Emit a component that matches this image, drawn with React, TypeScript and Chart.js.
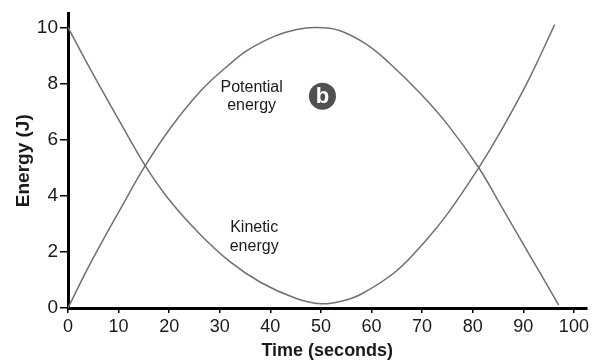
import React, { useEffect, useRef } from "react";
import { Chart, registerables } from "chart.js";

Chart.register(...registerables);

const kineticTime = [0, 4.6, 9.9, 15.2, 19.8, 25.7, 32, 38.2, 45, 50, 54, 58, 64.8, 70.7, 75.2, 81.2, 85.7, 91.1, 96.2];
const kineticEnergy = [10, 8.45, 6.75, 5.09, 3.9, 2.7, 1.65, 0.9, 0.35, 0.15, 0.24, 0.5, 1.3, 2.4, 3.4, 5.0, 6.35, 8.15, 10.1];

const potentialTime = [0, 4.6, 11.2, 15.3, 20.4, 26.3, 31.7, 35.6, 41, 45, 48.9, 53.5, 58.8, 63.4, 69.9, 75.2, 81.2, 85.1, 89.1, 93, 97];
const potentialEnergy = [0, 1.65, 3.8, 5.08, 6.45, 7.75, 8.65, 9.2, 9.7, 9.92, 10.0, 9.9, 9.42, 8.75, 7.6, 6.5, 5.0, 3.8, 2.55, 1.35, 0.1];

const xTicks = [0, 10, 20, 30, 40, 50, 60, 70, 80, 90, 100];
const yTicks = [0, 2, 4, 6, 8, 10];

const xTitle = "Time (seconds)";
const yTitle = "Energy (J)";
const potentialLabel = ["Potential", "energy"];
const kineticLabel = ["Kinetic", "energy"];
const badgeText = "b";

const FONT = "'Liberation Sans', Arial, sans-serif";
const CURVE = "#707070";

const annotationPlugin = {
  id: "annotations",
  afterDatasetsDraw(chart: any) {
    const ctx = chart.ctx;
    const xs = chart.scales.x;
    const ys = chart.scales.y;
    ctx.save();
    ctx.fillStyle = "#1a1a1a";
    ctx.font = `16px ${FONT}`;
    ctx.textAlign = "center";
    ctx.textBaseline = "middle";
    const px = xs.getPixelForValue(36.3);
    const py = ys.getPixelForValue(7.85);
    ctx.fillText(potentialLabel[0], px, py);
    ctx.fillText(potentialLabel[1], px, py + 18);
    const kx = xs.getPixelForValue(36.8);
    const ky = ys.getPixelForValue(2.85);
    ctx.fillText(kineticLabel[0], kx, ky);
    ctx.fillText(kineticLabel[1], kx, ky + 19);
    const bx = xs.getPixelForValue(50.3);
    const by = ys.getPixelForValue(7.55);
    ctx.beginPath();
    ctx.arc(bx, by, 13.5, 0, Math.PI * 2);
    ctx.fillStyle = "#505050";
    ctx.fill();
    ctx.fillStyle = "#ffffff";
    ctx.font = `bold 22px ${FONT}`;
    ctx.fillText(badgeText, bx, by + 1);
    ctx.restore();
  },
};

export default function App() {
  const ref = useRef<HTMLCanvasElement | null>(null);

  useEffect(() => {
    if (!ref.current) return;
    const chart = new Chart(ref.current, {
      type: "line",
      data: {
        datasets: [
          {
            label: "Kinetic energy",
            data: kineticTime.map((t, i) => ({ x: t, y: kineticEnergy[i] })),
            borderColor: CURVE,
            borderWidth: 1.5,
            pointRadius: 0,
            tension: 0.4,
            fill: false,
          },
          {
            label: "Potential energy",
            data: potentialTime.map((t, i) => ({ x: t, y: potentialEnergy[i] })),
            borderColor: CURVE,
            borderWidth: 1.5,
            pointRadius: 0,
            tension: 0.4,
            fill: false,
          },
        ],
      },
      options: {
        animation: false,
        responsive: false,
        maintainAspectRatio: false,
        layout: { padding: { top: 9, right: 4, left: 0, bottom: 0 } },
        plugins: {
          legend: { display: false },
          tooltip: { enabled: false },
        },
        scales: {
          x: {
            type: "linear",
            min: 0,
            max: 102.5,
            afterBuildTicks: (s: any) => {
              s.ticks = xTicks.map((v) => ({ value: v }));
            },
            afterFit: (s: any) => {
              s.height = 56;
            },
            grid: {
              drawOnChartArea: false,
              drawTicks: true,
              tickLength: 5,
              color: "#000",
              lineWidth: 1.5,
            },
            border: { display: true, color: "#000", width: 3 },
            ticks: {
              color: "#1a1a1a",
              padding: 3,
              maxRotation: 0,
              autoSkip: false,
              font: { family: FONT, size: 18 },
            },
            title: {
              display: true,
              text: xTitle,
              color: "#1a1a1a",
              padding: { top: 0, bottom: 2 },
              font: { family: FONT, size: 18, weight: "bold" },
            },
          },
          y: {
            type: "linear",
            min: 0,
            max: 10.5,
            afterBuildTicks: (s: any) => {
              s.ticks = yTicks.map((v) => ({ value: v }));
            },
            afterFit: (s: any) => {
              s.width = 68;
            },
            grid: {
              drawOnChartArea: false,
              drawTicks: true,
              tickLength: 8,
              color: "#000",
              lineWidth: 1.5,
            },
            border: { display: true, color: "#000", width: 3 },
            ticks: {
              color: "#1a1a1a",
              padding: 2,
              autoSkip: false,
              font: { family: FONT, size: 19 },
            },
            title: {
              display: true,
              text: yTitle,
              color: "#1a1a1a",
              padding: { top: 12, bottom: 0 },
              font: { family: FONT, size: 19, weight: "bold" },
            },
          },
        },
      },
      plugins: [annotationPlugin],
    });
    return () => chart.destroy();
  }, []);

  return (
    <div style={{ position: "fixed", left: 0, top: 0, width: 592, height: 364, background: "#fff" }}>
      <canvas ref={ref} width={592} height={364} style={{ width: 592, height: 364 }} />
    </div>
  );
}
